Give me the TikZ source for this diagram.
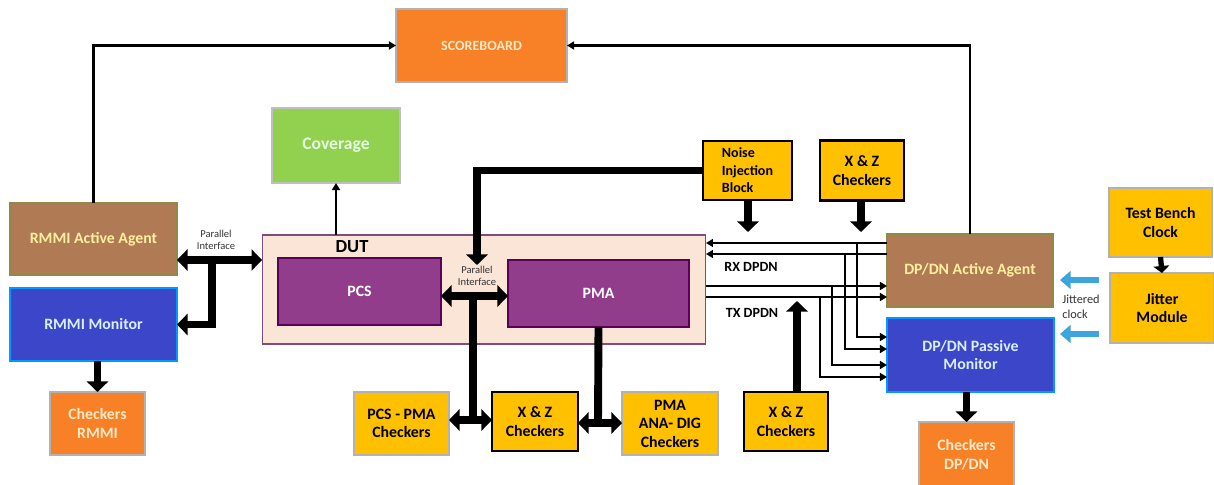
\documentclass[tikz,border=0pt]{standalone}
\usepackage{fontspec}
\setmainfont{Carlito}
\usetikzlibrary{arrows.meta,calc}
\definecolor{orgFill}{RGB}{248,128,38}
\definecolor{orgText}{RGB}{255,234,200}
\definecolor{grnFill}{RGB}{146,208,80}
\definecolor{brnFill}{RGB}{176,122,84}
\definecolor{brnText}{RGB}{255,240,160}
\definecolor{bluFill}{RGB}{60,70,200}
\definecolor{bluText}{RGB}{216,240,255}
\definecolor{purFill}{RGB}{146,60,140}
\definecolor{gldFill}{RGB}{255,192,0}
\definecolor{dutFill}{RGB}{251,229,214}
\definecolor{clkBlue}{RGB}{60,165,222}

\begin{document}
\begin{tikzpicture}[x=0.02cm,y=-0.02cm,
  every node/.style={font=\bfseries\fontsize{9}{10.5}\selectfont,align=center,inner sep=0pt,outer sep=0pt},
  orgbox/.style={fill=orgFill,draw=gray!60,line width=0.6pt,text=orgText},
  brnbox/.style={fill=brnFill,draw=olive!50!gray,line width=0.6pt,text=brnText},
  blubox/.style={fill=bluFill,draw=blue!40!cyan,line width=0.6pt,text=bluText},
  purbox/.style={fill=purFill,draw=violet!70!black,line width=0.6pt,text=white},
  gldbox/.style={fill=gldFill,draw=gray!60,line width=0.6pt,text=black},
  chkbox/.style={fill=gldFill,draw=black,line width=1.6pt,text=black},
  lbl/.style={font=\fontsize{6}{7}\selectfont,text=black!80},
  thinarr/.style={line width=1.2pt,-{Triangle[length=4pt,width=4.5pt]}},
  fatline/.style={line width=4.5pt},
  fatarr/.style={line width=4.5pt,-{Triangle[length=6pt,width=12pt]}},
  fatdbl/.style={line width=4.5pt,{Triangle[length=6pt,width=12pt]}-{Triangle[length=6pt,width=12pt]}},
  bluarr/.style={line width=3.5pt,clkBlue,-{Triangle[length=6pt,width=10pt]}}]
\useasboundingbox (0,0) rectangle (1214,484);
\node[orgbox,minimum width=3.42cm,minimum height=1.46cm,font=\bfseries\fontsize{8}{10}\selectfont] (score) at (481.5,45.5) {SCOREBOARD};
\node[fill=grnFill,draw=gray!50,line width=0.6pt,text=white!90!green,minimum width=2.56cm,minimum height=1.5cm,font=\bfseries\fontsize{10}{12}\selectfont] (cov) at (336,145.5) {Coverage};
\node[brnbox,minimum width=3.34cm,minimum height=1.44cm] (rmmiAA) at (93.5,239) {RMMI Active Agent};
\node[blubox,minimum width=3.34cm,minimum height=1.46cm] (rmmiMon) at (93.5,324.5) {RMMI Monitor};
\node[orgbox,minimum width=1.9cm,minimum height=1.26cm] (chkRmmi) at (97.5,423.5) {Checkers\\RMMI};
\node[fill=dutFill,draw=violet!40!gray,line width=0.6pt,minimum width=8.88cm,minimum height=2.18cm] (dut) at (484,289.5) {};
\node[font=\bfseries\fontsize{10.5}{12}\selectfont] (dutLbl) at (352,247) {DUT};
\node[purbox,minimum width=3.26cm,minimum height=1.34cm] (pcs) at (359.5,291.5) {PCS};
\node[purbox,minimum width=3.62cm,minimum height=1.34cm] (pma) at (598.5,293.5) {PMA};
\node[chkbox,minimum width=1.78cm,minimum height=1.18cm,align=left,font=\bfseries\fontsize{8}{10}\selectfont] (noise) at (747.5,170.5) {Noise\\Injection\\Block};
\node[chkbox,minimum width=1.68cm,minimum height=1.2cm] (xzTop) at (862,170.5) {X \& Z\\Checkers};
\node[brnbox,minimum width=3.32cm,minimum height=1.46cm] (dpAA) at (970,270.5) {DP/DN Active Agent};
\node[blubox,minimum width=3.34cm,minimum height=1.48cm] (dpMon) at (970.5,355) {DP/DN Passive\\Monitor};
\node[orgbox,minimum width=1.9cm,minimum height=1.32cm] (chkDp) at (966.5,455) {Checkers\\DP/DN};
\node[gldbox,minimum width=2.06cm,minimum height=1.38cm] (tbClk) at (1160.5,222.5) {Test Bench\\Clock};
\node[gldbox,minimum width=2.08cm,minimum height=1.4cm] (jitter) at (1162,308) {Jitter\\Module};
\node[gldbox,minimum width=1.9cm,minimum height=1.26cm] (pcsChk) at (401.5,423.5) {PCS - PMA\\Checkers};
\node[chkbox,minimum width=1.72cm,minimum height=1.18cm] (xzMid) at (535,421.5) {X \& Z\\Checkers};
\node[gldbox,minimum width=1.92cm,minimum height=1.26cm] (pmaChk) at (670,423.5) {PMA\\ANA- DIG\\Checkers};
\node[chkbox,minimum width=1.68cm,minimum height=1.18cm] (xzBot) at (786,421.5) {X \& Z\\Checkers};
\node[lbl] (piLeft) at (216,240) {Parallel\\Interface};
\node[lbl] (piDut) at (477,276) {Parallel\\Interface};
\node[font=\bfseries\fontsize{8}{10}\selectfont] (rxLbl) at (751,267) {RX DPDN};
\node[font=\bfseries\fontsize{8}{10}\selectfont] (txLbl) at (752,313) {TX DPDN};
\node[lbl,align=left,font=\fontsize{7}{8.5}\selectfont] (jcLbl) at (1081,307) {Jittered\\clock};
\coordinate (rj) at (212,260);
\coordinate (nj) at (477,265);
\coordinate (pj) at (473,296);
\coordinate (qj) at (473,420);
\coordinate (sj) at (598,423);
\coordinate (nz) at (748,232);
\coordinate (xz) at (861,232);
\coordinate (xb) at (797,301);
\coordinate (rxa) at (857,243);
\coordinate (rxb) at (845,254);
\coordinate (txa) at (832,286);
\coordinate (txb) at (820,297);
\coordinate (ja) at (1060,280);
\coordinate (jb) at (1060,334);
\draw[thinarr] (rmmiAA.north) |- (score.west);
\draw[thinarr] (dpAA.north) |- (score.east);
\draw[thinarr] (cov.south |- dut.north) -- (cov.south);
\draw[fatdbl] (rmmiAA.east |- rj) -- (dut.west |- rj);
\draw[fatarr] (rj) |- (rmmiMon.east);
\draw[fatarr] (rmmiMon.south -| chkRmmi.north) -- (chkRmmi.north);
\draw[fatarr] (noise.west) -| (nj);
\draw[fatline] (pj) -- (qj);
\draw[fatdbl] (pcs.east |- pj) -- (pma.west |- pj);
\draw[fatdbl] (pcsChk.east |- qj) -- (xzMid.west |- qj);
\draw[fatline] (pma.south) -- (sj);
\draw[fatdbl] (xzMid.east |- sj) -- (pmaChk.west |- sj);
\draw[fatarr] (noise.south -| nz) -- (nz);
\draw[fatarr] (xzTop.south -| xz) -- (xz);
\draw[fatarr] (xzBot.north -| xb) -- (xb);
\draw[thinarr] (dpAA.west |- rxa) -- (dut.east |- rxa);
\draw[thinarr] (dpAA.west |- rxb) -- (dut.east |- rxb);
\draw[thinarr] (dut.east |- txa) -- (dpAA.west |- txa);
\draw[thinarr] (dut.east |- txb) -- (dpAA.west |- txb);
\draw[thinarr] (rxa) |- ($(dpMon.west)+(0,-18)$);
\draw[thinarr] (rxb) |- ($(dpMon.west)+(0,-6)$);
\draw[thinarr] (txa) |- ($(dpMon.west)+(0,10)$);
\draw[thinarr] (txb) |- ($(dpMon.west)+(0,22)$);
\draw[fatarr] (dpMon.south -| chkDp.north) -- (chkDp.north);
\draw[line width=3pt,-{Triangle[length=4pt,width=9pt]}] (tbClk.south) -- (jitter.north);
\draw[bluarr,shorten <=6pt] (jitter.west |- ja) -- (ja);
\draw[bluarr,shorten <=6pt] (jitter.west |- jb) -- (jb);
\end{tikzpicture}
\end{document}
